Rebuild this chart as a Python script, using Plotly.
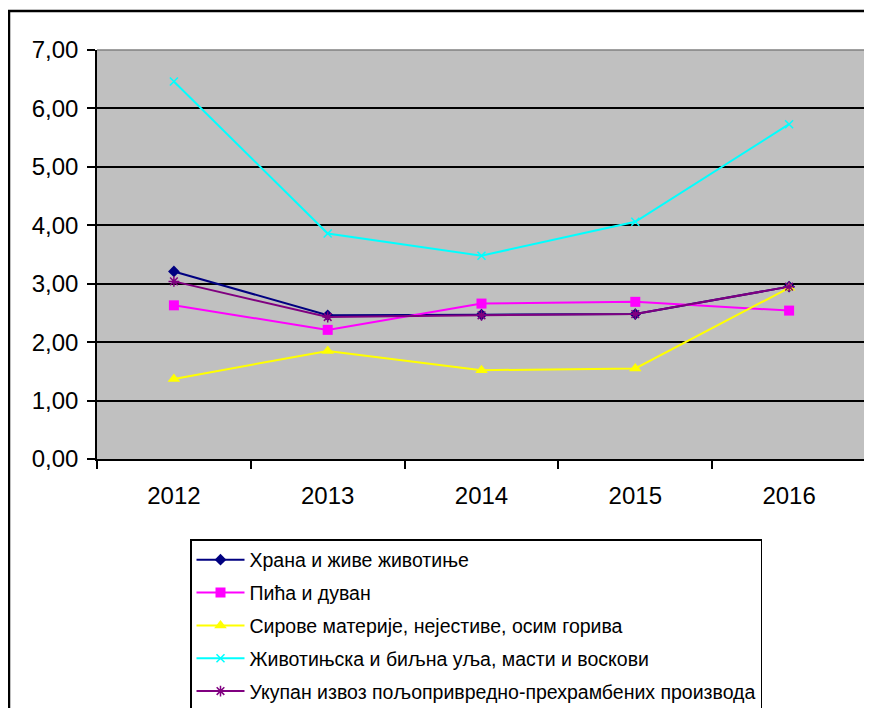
import plotly.graph_objects as go

years = ["2012", "2013", "2014", "2015", "2016"]
names = [
    "Храна и живе животиње",
    "Пића и дуван",
    "Сирове материје, нејестиве, осим горива",
    "Животињска и биљна уља, масти и воскови",
    "Укупан извоз пољопривредно-прехрамбених производа",
]
hrana = [3.21, 2.46, 2.47, 2.48, 2.95]
pica = [2.63, 2.21, 2.66, 2.69, 2.54]
sirove = [1.37, 1.85, 1.52, 1.55, 2.93]
ulja = [6.46, 3.86, 3.48, 4.06, 5.73]
ukupan = [3.04, 2.43, 2.46, 2.48, 2.95]

series = [hrana, pica, sirove, ulja, ukupan]
colors = ["#000080", "#FF00FF", "#FFFF00", "#00FFFF", "#800080"]
symbols = ["diamond", "square", "triangle-up", "x-thin-open", "asterisk-open"]
sizes = [9, 10, 11, 8, 9]

fig = go.Figure()
for i, (nm, vals) in enumerate(zip(names, series)):
    fig.add_trace(go.Scatter(
        x=years, y=vals, name=nm, mode="lines+markers",
        legendgroup=f"g{i}",
        line=dict(color=colors[i], width=2),
        marker=dict(symbol=symbols[i], size=sizes[i], color=colors[i],
                    line=dict(color=colors[i], width=1.5 if i >= 3 else 0)),
    ))

# page renders with an ~8px body margin; work in screen coordinates
OFF = 8
W, H = 872, 708
plot_left, plot_right, plot_top, plot_bottom = 97, 866, 50, 459
L = plot_left - OFF
T = plot_top - OFF
pw = plot_right - plot_left
ph = plot_bottom - plot_top
R = W - L - pw
B = H - T - ph

def px2x(p):
    return (p - plot_left) / pw

def py2y(p):
    return (plot_bottom - p) / ph

font = "Liberation Sans, Arial, sans-serif"

fig.update_layout(
    width=W, height=H,
    margin=dict(l=L, r=R, t=T, b=B, pad=0, autoexpand=False),
    paper_bgcolor="white",
    plot_bgcolor="#C0C0C0",
    separators=", ",
    font=dict(family=font, color="black"),
    showlegend=True,
    legend=dict(
        x=px2x(190), y=py2y(539), xanchor="left", yanchor="top",
        bordercolor="black", borderwidth=1.5, bgcolor="white",
        font=dict(size=19.5, family=font, color="black"),
        tracegroupgap=4.5, itemwidth=48, traceorder="grouped",
    ),
    xaxis=dict(
        type="category", range=[-0.5, 4.5], showgrid=False, zeroline=False,
        showline=True, linecolor="black", linewidth=1.5,
        ticks="outside", ticklen=8, tickcolor="black", tickwidth=1.5,
        tickson="boundaries",
        tickfont=dict(size=24, family=font, color="black"),
        ticklabelstandoff=14,
    ),
    yaxis=dict(
        range=[0, 7], tickvals=[0, 1, 2, 3, 4, 5, 6, 7], tickformat=".2f",
        showgrid=True, gridcolor="black", gridwidth=1.5, zeroline=False,
        showline=True, linecolor="black", linewidth=1.5,
        ticks="outside", ticklen=8, tickcolor="black", tickwidth=1.5,
        tickfont=dict(size=24, family=font, color="black"),
        ticklabelstandoff=4,
    ),
    shapes=[
        dict(type="line", xref="paper", yref="paper", x0=0, x1=1, y0=1, y1=1,
             line=dict(color="#808080", width=1.5), layer="above"),
        dict(type="line", xref="paper", yref="paper", x0=1, x1=1, y0=0, y1=1,
             line=dict(color="#808080", width=1.5), layer="above"),
        dict(type="rect", xref="paper", yref="paper",
             x0=px2x(9), x1=px2x(885), y0=py2y(730), y1=py2y(11),
             line=dict(color="black", width=2.5), fillcolor="rgba(0,0,0,0)",
             layer="above"),
    ],
)

fig.write_html("out.html")
